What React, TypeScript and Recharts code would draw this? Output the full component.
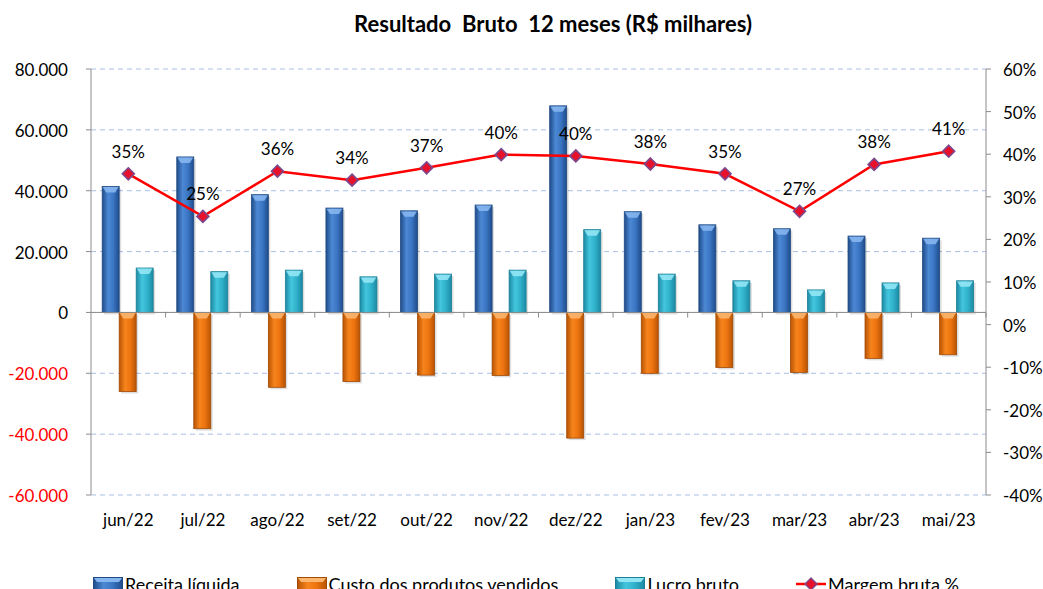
import React from 'react';
import {
  ComposedChart,
  Bar,
  Line,
  XAxis,
  YAxis,
  CartesianGrid,
  ReferenceLine,
  LabelList,
  Legend,
} from 'recharts';

const months = ['jun/22', 'jul/22', 'ago/22', 'set/22', 'out/22', 'nov/22', 'dez/22', 'jan/23', 'fev/23', 'mar/23', 'abr/23', 'mai/23'];
const receitaLiquida = [41400, 51100, 38700, 34300, 33400, 35300, 67900, 33100, 28800, 27500, 25100, 24400];
const custoProdutos = [-26000, -38200, -24600, -22700, -20600, -20700, -41300, -20000, -18100, -19700, -15100, -13900];
const lucroBruto = [14600, 13400, 13900, 11700, 12600, 13900, 27200, 12600, 10400, 7400, 9700, 10400];
const margemBruta = [35.4, 25.4, 36.0, 33.9, 36.8, 39.9, 39.6, 37.7, 35.4, 26.6, 37.6, 40.7];
const leftTicks = [-60000, -40000, -20000, 0, 20000, 40000, 60000, 80000];
const rightTicks = [-40, -30, -20, -10, 0, 10, 20, 30, 40, 50, 60];
const seriesNames = ['Receita líquida', 'Custo dos produtos vendidos', 'Lucro bruto', 'Margem bruta %'];
const title = 'Resultado  Bruto  12 meses (R$ milhares)';

const data = months.map((m, i) => ({
  month: m,
  receita: receitaLiquida[i],
  custo: custoProdutos[i],
  lucro: lucroBruto[i],
  margem: margemBruta[i],
}));

const FONT = 'Lato, "Open Sans", sans-serif';

const palettes = {
  blue: { id: 'gBlue', stroke: '#1F4A82', cap: '#86B6F0', edge: '#1F4C8A', mid: '#4C88D4', light: '#3B76C4' },
  orange: { id: 'gOrange', stroke: '#A04A05', cap: '#FAB56E', edge: '#B85404', mid: '#F7841C', light: '#EE7410' },
  cyan: { id: 'gCyan', stroke: '#1C7F96', cap: '#92E6F4', edge: '#1C8AA4', mid: '#43C6DE', light: '#31B2CC' },
};

const fmtThousands = (v: number) => {
  const s = Math.abs(v).toString().replace(/\B(?=(\d{3})+(?!\d))/g, '.');
  return (v < 0 ? '-' : '') + s;
};

const makeBarShape = (pal: any) => (props: any) => {
  const { x, y, width, height } = props;
  if (x == null || y == null || width == null || height == null) return null;
  const top = Math.min(y, y + height);
  const h = Math.abs(height);
  if (h <= 0) return null;
  const capH = Math.min(6, h);
  return (
    <g>
      <rect x={x + 2} y={top + 2} width={width} height={h} fill="#000" opacity={0.13} />
      <rect x={x} y={top} width={width} height={h} fill={`url(#${pal.id})`} stroke={pal.stroke} strokeWidth={0.8} />
      <path
        d={`M${x + 0.6},${top + 0.6} L${x + width - 0.6},${top + 0.6} L${x + width - 4},${top + capH} L${x + 4},${top + capH} Z`}
        fill={pal.cap}
        opacity={0.9}
      />
    </g>
  );
};

const BlueShape = makeBarShape(palettes.blue);
const OrangeShape = makeBarShape(palettes.orange);
const CyanShape = makeBarShape(palettes.cyan);

const Diamond = (props: any) => {
  const { cx, cy } = props;
  if (cx == null || cy == null) return null;
  const r = 6;
  return (
    <polygon
      points={`${cx},${cy - r} ${cx + r},${cy} ${cx},${cy + r} ${cx - r},${cy}`}
      fill="#E8112B"
      stroke="#7C4A8C"
      strokeWidth={1.6}
    />
  );
};

const MargemLabel = (props: any) => {
  const { x, y, value } = props;
  if (x == null || y == null) return null;
  return (
    <text x={x} y={y - 16} textAnchor="middle" fontSize={17} fontFamily={FONT} fill="#000">
      {`${Math.round(Number(value))}%`}
    </text>
  );
};

const LeftTick = (props: any) => {
  const { x, y, payload } = props;
  const v = payload.value;
  return (
    <text x={x} y={y} dy={7} textAnchor="end" fontSize={17} fontFamily={FONT} fill={v < 0 ? '#FF0000' : '#000'}>
      {fmtThousands(v)}
    </text>
  );
};

const RightTick = (props: any) => {
  const { x, y, payload } = props;
  return (
    <text x={x} y={y} dy={7} textAnchor="start" fontSize={17} fontFamily={FONT} fill="#000">
      {`${payload.value}%`}
    </text>
  );
};

const Gradients = () => (
  <>
    {Object.values(palettes).map((p) => (
      <linearGradient key={p.id} id={p.id} x1="0" x2="1" y1="0" y2="0">
        <stop offset="0" stopColor={p.edge} />
        <stop offset="0.35" stopColor={p.mid} />
        <stop offset="0.65" stopColor={p.light} />
        <stop offset="1" stopColor={p.edge} />
      </linearGradient>
    ))}
  </>
);

const LegendContent = () => {
  const swatches = [palettes.blue, palettes.orange, palettes.cyan];
  return (
    <div
      style={{
        display: 'flex',
        alignItems: 'flex-start',
        paddingLeft: 93,
        fontFamily: FONT,
        fontSize: 18,
        lineHeight: '20px',
        color: '#000',
        whiteSpace: 'nowrap',
      }}
    >
      {seriesNames.map((name, i) => (
        <div key={name} style={{ display: 'flex', alignItems: 'flex-start', marginRight: 57 }}>
          <svg width={30} height={16} style={{ marginRight: 2, marginTop: 3 }}>
            {i < 3 ? (
              <g>
                <rect x={0.5} y={0.5} width={29} height={15} fill={`url(#${swatches[i].id})`} stroke={swatches[i].stroke} />
                <path d="M1,1 L29,1 L26,5 L4,5 Z" fill={swatches[i].cap} />
              </g>
            ) : (
              <g>
                <line x1={0} y1={7} x2={30} y2={7} stroke="#FF0000" strokeWidth={2.5} />
                <polygon points="15,1 21,7 15,13 9,7" fill="#E8112B" stroke="#7C4A8C" strokeWidth={1.4} />
              </g>
            )}
          </svg>
          <span>{name}</span>
        </div>
      ))}
    </div>
  );
};

export default function App() {
  return (
    <div style={{ position: 'absolute', left: 0, top: 0, width: 1043, height: 589, background: '#fff', overflow: 'hidden' }}>
      <ComposedChart
        width={1043}
        height={589}
        data={data}
        margin={{ top: 69, right: 0, left: 0, bottom: 34 }}
        barCategoryGap="15%"
        barGap={0}
      >
        <defs>
          <Gradients />
        </defs>
        <CartesianGrid yAxisId="left" vertical={false} stroke="#A9BFE6" strokeDasharray="5 4" />
        <XAxis
          dataKey="month"
          axisLine={false}
          tickLine={false}
          tickSize={0}
          tickMargin={19}
          height={40}
          interval={0}
          tick={{ fill: '#000', fontSize: 17, fontFamily: FONT }}
        />
        <YAxis
          yAxisId="left"
          width={91}
          domain={[-60000, 80000]}
          ticks={leftTicks}
          interval={0}
          tickSize={5}
          tickMargin={18}
          axisLine={{ stroke: '#8C8C8C' }}
          tickLine={{ stroke: '#8C8C8C' }}
          tick={<LeftTick />}
          allowDataOverflow
        />
        <YAxis
          yAxisId="right"
          orientation="right"
          width={57}
          domain={[-40, 60]}
          ticks={rightTicks}
          interval={0}
          tickSize={5}
          tickMargin={12}
          axisLine={{ stroke: '#8C8C8C' }}
          tickLine={{ stroke: '#8C8C8C' }}
          tick={<RightTick />}
          allowDataOverflow
        />
        <ReferenceLine yAxisId="left" y={0} stroke="#8C8C8C" strokeWidth={1} />
        {months.map((m) => (
          <ReferenceLine
            key={`tick-${m}`}
            yAxisId="left"
            position="end"
            segment={[
              { x: m, y: 0 },
              { x: m, y: -1700 },
            ]}
            stroke="#8C8C8C"
          />
        ))}
        <Bar yAxisId="left" dataKey="receita" name={seriesNames[0]} fill="#3B76C4" shape={<BlueShape />} isAnimationActive={false} />
        <Bar yAxisId="left" dataKey="custo" name={seriesNames[1]} fill="#EE7410" shape={<OrangeShape />} isAnimationActive={false} />
        <Bar yAxisId="left" dataKey="lucro" name={seriesNames[2]} fill="#31B2CC" shape={<CyanShape />} isAnimationActive={false} />
        <Line
          yAxisId="right"
          type="linear"
          dataKey="margem"
          name={seriesNames[3]}
          stroke="#FF0000"
          strokeWidth={2.5}
          dot={<Diamond />}
          activeDot={false}
          isAnimationActive={false}
        >
          <LabelList dataKey="margem" content={<MargemLabel />} />
        </Line>
        <Legend
          verticalAlign="bottom"
          content={<LegendContent />}
          wrapperStyle={{ top: 574, left: 0, width: 1043, height: 20 }}
        />
      </ComposedChart>
      <svg style={{ position: 'absolute', left: 0, top: 0, pointerEvents: 'none' }} width={1043} height={44}>
        <text x={553} y={32} textAnchor="middle" fontWeight="bold" fontSize={22} fontFamily={FONT} fill="#000" style={{ whiteSpace: 'pre' }}>
          {title}
        </text>
      </svg>
    </div>
  );
}
